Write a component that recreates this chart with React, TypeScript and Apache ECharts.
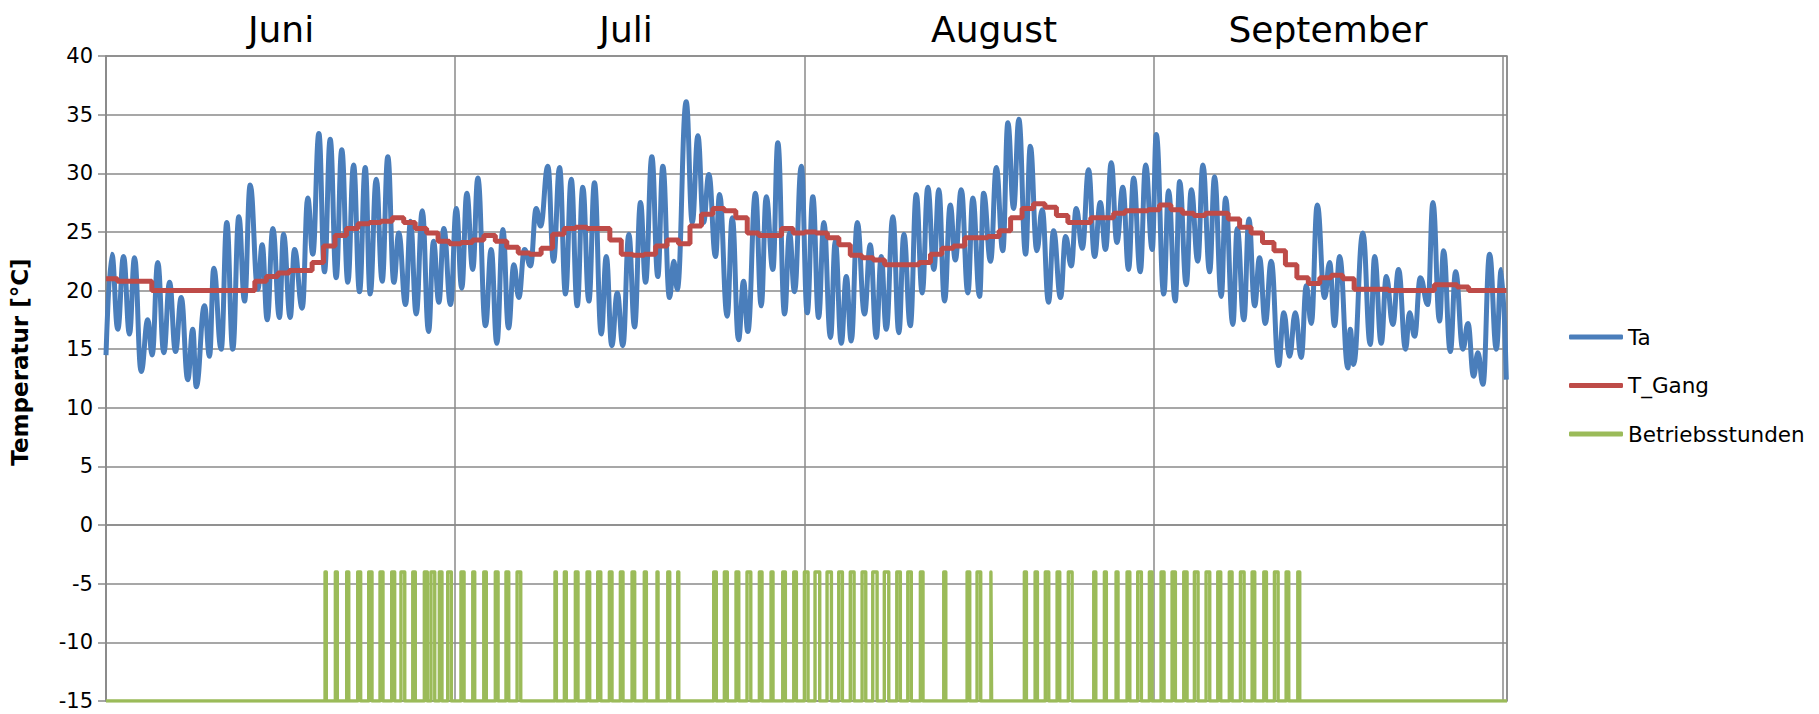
import React, { useEffect, useRef } from "react";
import * as echarts from "echarts";

// Month labels shown above the plot
const months = ["Juni", "Juli", "August", "September"];

// Outside air temperature: [day since 1 June, °C] – daily extremes
const ta: [number, number][] = [
  [0, 14.5], [0.51, 23.1], [1.03, 16.7], [1.53, 22.9], [2.05, 16.3], [2.49, 22.8], [3.07, 13.1], [3.65, 17.5],
  [4.03, 14.5], [4.52, 22.4], [5.05, 14.7], [5.55, 20.7], [6.07, 14.8], [6.57, 19.4], [7.14, 12.4], [7.58, 16.7],
  [7.88, 11.8], [8.6, 18.7], [9.04, 14.4], [9.41, 21.9], [10.06, 15.0], [10.55, 25.8], [11.07, 15.0], [11.6, 26.3],
  [12.1, 19.1], [12.59, 29.0], [13.26, 20.1], [13.64, 23.9], [14.08, 17.5], [14.57, 25.3], [15.15, 17.7], [15.5, 24.8],
  [16.09, 17.7], [16.46, 23.5], [17.14, 18.5], [17.62, 27.9], [18.06, 23.1], [18.59, 33.4], [19.08, 21.6], [19.58, 32.9],
  [20.1, 21.1], [20.59, 32.0], [21.12, 20.7], [21.62, 30.7], [22.14, 19.9], [22.64, 30.5], [23.07, 19.7], [23.6, 29.5],
  [24.12, 20.8], [24.61, 31.4], [25.14, 20.7], [25.57, 24.9], [26.16, 18.8], [26.59, 25.9], [27.09, 18.0], [27.62, 26.8],
  [28.17, 16.5], [28.6, 24.2], [29.07, 19.0], [29.5, 25.3], [30.09, 18.8], [30.59, 27.0], [31.07, 20.2], [31.51, 28.3],
  [32.03, 21.8], [32.47, 29.6], [33.14, 17.0], [33.64, 23.5], [34.13, 15.5], [34.66, 25.2], [35.15, 16.8], [35.62, 22.2],
  [36.05, 19.4], [36.55, 23.5], [37.07, 22.1], [37.57, 27.0], [37.95, 25.5], [38.59, 30.6], [39.08, 22.5], [39.61, 30.5],
  [40.13, 19.7], [40.63, 29.5], [41.15, 18.7], [41.64, 28.8], [42.17, 19.1], [42.66, 29.2], [43.25, 16.3], [43.69, 22.9],
  [44.17, 15.3], [44.65, 19.8], [45.14, 15.3], [45.66, 24.8], [46.16, 16.9], [46.68, 27.5], [47.12, 20.7], [47.67, 31.4],
  [48.19, 21.2], [48.63, 30.6], [49.21, 19.4], [49.59, 22.5], [49.89, 20.1], [50.67, 36.1], [51.2, 25.8], [51.69, 33.2],
  [52.18, 25.8], [52.65, 29.9], [53.23, 22.9], [53.58, 28.2], [54.25, 17.8], [54.69, 26.2], [55.24, 15.8], [55.68, 20.8],
  [56.05, 16.5], [56.72, 28.3], [57.22, 18.7], [57.66, 28.0], [58.24, 21.8], [58.67, 32.6], [59.26, 18.0], [59.69, 24.9],
  [60.13, 19.9], [60.72, 30.6], [61.24, 18.1], [61.73, 28.0], [62.23, 17.7], [62.69, 25.8], [63.27, 16.0], [63.69, 24.2],
  [64.21, 15.5], [64.65, 21.2], [65.08, 15.7], [65.61, 25.8], [66.24, 18.0], [66.74, 23.9], [67.27, 16.0], [67.7, 22.9],
  [68.14, 16.7], [68.72, 26.3], [69.24, 16.4], [69.68, 24.8], [70.24, 17.0], [70.76, 28.2], [71.28, 19.8], [71.77, 28.8],
  [72.3, 21.8], [72.73, 28.6], [73.23, 19.1], [73.73, 27.3], [74.17, 22.6], [74.69, 28.6], [75.27, 19.8], [75.7, 27.9],
  [76.29, 19.5], [76.64, 28.3], [77.25, 22.5], [77.75, 30.5], [78.32, 23.4], [78.76, 34.3], [79.26, 27.0], [79.72, 34.6],
  [80.31, 23.1], [80.72, 32.3], [81.29, 23.4], [81.76, 26.9], [82.31, 19.0], [82.75, 25.1], [83.36, 19.4], [83.8, 24.6],
  [84.3, 22.1], [84.73, 27.0], [85.26, 23.6], [85.81, 30.3], [86.33, 22.9], [86.83, 27.5], [87.29, 23.5], [87.79, 30.9],
  [88.28, 24.1], [88.8, 28.8], [89.3, 21.8], [89.74, 29.6], [90.32, 21.6], [90.79, 30.7], [91.37, 23.5], [91.72, 33.3],
  [92.38, 19.7], [92.79, 28.5], [93.38, 19.1], [93.76, 29.3], [94.34, 20.5], [94.78, 28.6], [95.35, 22.5], [95.79, 30.7],
  [96.38, 21.6], [96.81, 29.7], [97.4, 19.5], [97.77, 27.9], [98.41, 17.1], [98.79, 25.3], [99.37, 17.5], [99.81, 26.1],
  [100.31, 18.7], [100.74, 22.8], [101.24, 17.2], [101.76, 22.5], [102.4, 13.6], [102.86, 18.1], [103.36, 14.4], [103.86, 18.1],
  [104.38, 14.3], [104.82, 20.4], [105.26, 17.2], [105.78, 27.3], [106.42, 19.4], [106.86, 22.4], [107.29, 17.0], [107.73, 22.9],
  [108.46, 13.4], [108.66, 16.7], [108.95, 13.7], [109.76, 24.9], [110.41, 15.4], [110.79, 22.9], [111.37, 15.5], [111.81, 21.2],
  [112.38, 17.1], [112.88, 21.8], [113.49, 15.0], [113.84, 18.1], [114.28, 16.1], [114.78, 21.1], [115.44, 18.8], [115.88, 27.5],
  [116.46, 17.4], [116.81, 23.4], [117.4, 14.8], [117.86, 21.6], [118.5, 15.0], [118.94, 17.2], [119.43, 12.7], [119.81, 14.7],
  [120.25, 12.0], [120.83, 23.1], [121.42, 15.0], [121.85, 21.8], [122.29, 12.4],
];

// Daily reference temperature T_Gang (°C), one value per day from 1 June
const tGang: number[] = [
  21.0, 20.8, 20.8, 20.8, 20.0, 20.0, 20.0, 20.0, 20.0, 20.0,
  20.0, 20.0, 20.0, 20.8, 21.2, 21.5, 21.7, 21.7, 22.4, 23.8,
  24.7, 25.3, 25.7, 25.8, 25.9, 26.2, 25.8, 25.3, 24.9, 24.2,
  24.0, 24.1, 24.3, 24.7, 24.2, 23.7, 23.2, 23.1, 23.6, 24.8,
  25.3, 25.4, 25.3, 25.3, 24.3, 23.1, 23.0, 23.1, 23.8, 24.3,
  24.0, 25.5, 26.5, 27.0, 26.8, 26.2, 24.9, 24.7, 24.7, 25.3,
  24.9, 25.0, 24.9, 24.5, 23.9, 23.0, 22.8, 22.6, 22.2, 22.2,
  22.2, 22.4, 23.1, 23.6, 23.8, 24.5, 24.5, 24.6, 25.1, 26.2,
  27.0, 27.4, 27.1, 26.4, 25.8, 25.8, 26.2, 26.2, 26.6, 26.8,
  26.8, 26.9, 27.3, 26.9, 26.6, 26.4, 26.6, 26.6, 26.1, 25.4,
  24.9, 24.1, 23.4, 22.2, 21.1, 20.6, 21.1, 21.3, 21.0, 20.1,
  20.1, 20.1, 20.0, 20.0, 20.0, 20.0, 20.5, 20.5, 20.3, 20.0,
  20.0, 20.0,
];

// Operating periods (Betriebsstunden): [start day, end day]
const betriebPulses: [number, number][] = [
  [19.13, 19.24], [20.03, 20.2], [21.02, 21.2], [21.98, 22.24], [22.94, 23.23], [23.93, 24.19], [24.95, 25.21],
  [25.76, 26.09], [26.79, 27.01], [27.8, 28.06], [28.38, 28.71], [29.11, 29.34], [29.84, 30.16], [31.0, 31.27],
  [32.03, 32.2], [32.99, 33.21], [34.0, 34.24], [34.93, 35.17], [35.9, 36.22], [39.21, 39.33], [40.03, 40.2],
  [40.99, 41.22], [42.01, 42.24], [42.94, 43.21], [43.96, 44.19], [44.92, 45.15], [45.94, 46.17], [47.01, 47.19],
  [48.12, 48.21], [49.06, 49.23], [49.93, 50.02], [53.07, 53.3], [54.0, 54.26], [55.02, 55.26], [55.98, 56.31],
  [57.06, 57.29], [58.08, 58.25], [59.1, 59.33], [60.06, 60.29], [60.99, 61.31], [61.92, 62.33], [62.97, 63.35],
  [63.99, 64.31], [65.0, 65.33], [66.03, 66.35], [66.96, 67.34], [67.97, 68.36], [69.06, 69.37], [70.02, 70.33],
  [71.12, 71.35], [73.16, 73.34], [75.2, 75.43], [76.07, 76.39], [77.28, 77.34], [80.2, 80.38], [81.14, 81.34],
  [82.03, 82.33], [83.06, 83.29], [84.04, 84.37], [86.26, 86.44], [87.19, 87.36], [88.21, 88.38], [89.17, 89.41],
  [90.1, 90.42], [91.12, 91.35], [92.14, 92.4], [93.1, 93.39], [94.12, 94.41], [95.05, 95.37], [96.07, 96.39],
  [97.09, 97.35], [98.1, 98.34], [99.07, 99.39], [100.09, 100.32], [101.11, 101.34], [102.04, 102.36], [103.06, 103.29],
  [104.08, 104.25],
];
const betriebOn = -4;
const betriebOff = -15;

// Axis extents
const yMin = -15;
const yMax = 40;
const yStep = 5;
const xEnd = 122.35; // days shown
const monthStep = 30.5; // vertical gridline spacing (days)

const FONT = "DejaVu Sans";

export default function App() {
  const ref = useRef<HTMLDivElement>(null);

  useEffect(() => {
    if (!ref.current) return;
    const chart = echarts.init(ref.current, undefined, { renderer: "svg" });

    const gangData: number[][] = tGang.map((v, i) => [i, v]);
    gangData.push([xEnd - 0.05, tGang[tGang.length - 1]]);

    const betriebData: number[][] = [[0, betriebOff]];
    betriebPulses.forEach(([s, e]) => {
      betriebData.push([s, betriebOff], [s, betriebOn], [e, betriebOn], [e, betriebOff]);
    });
    betriebData.push([xEnd, betriebOff]);

    const monthCenters = [281, 626, 994, 1328];
    const gray = "#8a8a8a";

    chart.setOption({
      animation: false,
      backgroundColor: "#ffffff",
      grid: {
        left: 106,
        right: 312,
        top: 56,
        bottom: 13,
        show: true,
        borderColor: gray,
        borderWidth: 1.5,
      },
      xAxis: {
        type: "value",
        min: 0,
        max: xEnd,
        interval: monthStep,
        axisLabel: { show: false },
        axisTick: { show: false },
        axisLine: { show: true, lineStyle: { color: gray, width: 1.5 } },
        splitLine: { show: true, lineStyle: { color: gray, width: 1.5 } },
      },
      yAxis: {
        type: "value",
        min: yMin,
        max: yMax,
        interval: yStep,
        axisLine: { show: true, lineStyle: { color: gray, width: 1.5 } },
        axisTick: { show: true, length: 8, lineStyle: { color: gray, width: 1.5 } },
        axisLabel: { color: "#000", fontFamily: FONT, fontSize: 21, margin: 13 },
        splitLine: { show: true, lineStyle: { color: gray, width: 1.5 } },
      },
      legend: {
        orient: "vertical",
        left: 1569,
        top: 325,
        padding: 0,
        icon: "roundRect",
        itemWidth: 54,
        itemHeight: 5,
        itemGap: 24.5,
        textStyle: { fontFamily: FONT, fontSize: 21.5, color: "#000", lineHeight: 24 },
        data: ["Ta", "T_Gang", "Betriebsstunden"],
      },
      graphic: [
        ...months.map((m, i) => ({
          type: "text",
          x: monthCenters[i],
          y: 29,
          style: {
            text: m,
            fill: "#000",
            font: `36px "${FONT}"`,
            textAlign: "center",
            textVerticalAlign: "middle",
          },
        })),
        {
          type: "text",
          x: 20,
          y: 362,
          rotation: Math.PI / 2,
          style: {
            text: "Temperatur [°C]",
            fill: "#000",
            font: `bold 23px "${FONT}"`,
            textAlign: "center",
            textVerticalAlign: "middle",
          },
        },
      ],
      series: [
        {
          name: "Ta",
          type: "line",
          data: ta,
          smooth: 0.45,
          smoothMonotone: "x",
          symbol: "none",
          showSymbol: false,
          lineStyle: { color: "#4A7EBB", width: 5 },
          itemStyle: { color: "#4A7EBB" },
          z: 2,
        },
        {
          name: "T_Gang",
          type: "line",
          data: gangData,
          step: "end",
          symbol: "none",
          showSymbol: false,
          lineStyle: { color: "#BE4B48", width: 5 },
          itemStyle: { color: "#BE4B48" },
          z: 3,
        },
        {
          name: "Betriebsstunden",
          type: "line",
          data: betriebData,
          symbol: "none",
          showSymbol: false,
          lineStyle: { color: "#9BBB59", width: 3.4, join: "round" },
          itemStyle: { color: "#9BBB59" },
          z: 4,
        },
      ],
    });

    return () => chart.dispose();
  }, []);

  return (
    <div
      ref={ref}
      style={{ position: "absolute", left: 0, top: 0, width: 1819, height: 714, background: "#fff" }}
    />
  );
}
